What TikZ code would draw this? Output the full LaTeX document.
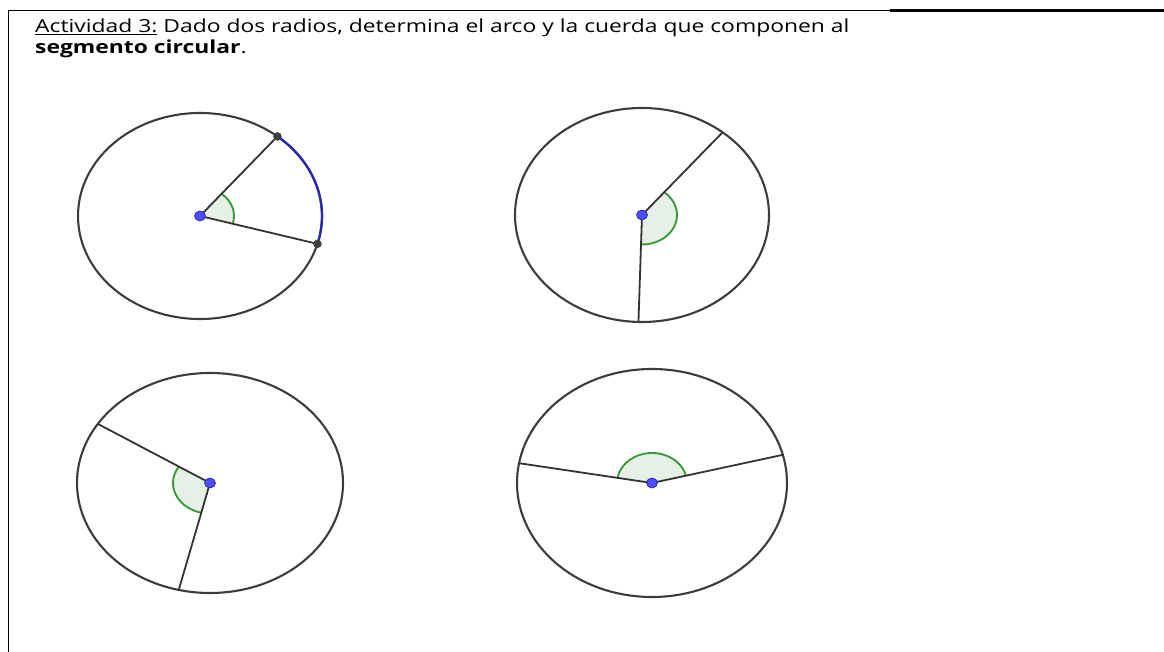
\documentclass[tikz,border=0pt]{standalone}
\usepackage{fontspec}
\setmainfont{Open Sans}
\usetikzlibrary{calc}
\definecolor{circ}{HTML}{3C3C3C}
\definecolor{rad}{HTML}{333333}
\definecolor{secfill}{HTML}{E6F0E6}
\definecolor{secline}{HTML}{3A9A3A}
\definecolor{ptblue}{HTML}{4D4DFF}
\definecolor{ptblueline}{HTML}{1A1AA0}
\definecolor{arcblue}{HTML}{2828B4}
\definecolor{ptdark}{HTML}{404040}
\newcommand\myhsc{1.27}
\tikzset{
  circline/.style={draw=circ, line width=2.1pt},
  radline/.style={draw=rad, line width=1.8pt},
  sector/.style={fill=secfill},
  sectorarc/.style={draw=secline, line width=1.9pt},
  bluept/.style={fill=ptblue, draw=ptblueline, line width=0.6pt},
  darkpt/.style={fill=ptdark, draw=ptdark},
  frame/.style={draw=black, line width=1.8pt},
  txt/.style={anchor=base west, inner sep=0pt, font=\fontsize{18}{21}\selectfont},
}
\begin{document}
\begin{tikzpicture}[x=1pt,y=1pt]
\useasboundingbox (0,0) rectangle (1164,652);
% frame
\coordinate (tl) at (8.5,641.5);
\coordinate (tr) at (1164,641.5);
\coordinate (bl) at (8.5,0);
\coordinate (tm) at (890,641.5);
\draw[frame] (bl) -- (tl) -- (tr);
\draw[draw=black, line width=2.8pt] (tm) -- (tr);
% text
\node[txt] (title1) at (35,619) {\scalebox{\myhsc}[1]{\underline{Actividad 3:} Dado dos radios, determina el arco y la cuerda que componen al}};
\node[txt] (title2) at (35,598) {\scalebox{\myhsc}[1]{\textbf{segmento circular}.}};

% ---------- circle 1 ----------
\coordinate (c1) at (200,436);
\coordinate (a1) at ($(c1)+({122*cos(50.6)},{103*sin(50.6)})$);
\coordinate (b1) at ($(c1)+({122*cos(-15.7)},{103*sin(-15.7)})$);
\fill[sector] (c1) -- ++({34*cos(-15.7)},{28.7*sin(-15.7)}) arc[start angle=-15.7, end angle=50.6, x radius=34, y radius=28.7] -- cycle;
\draw[sectorarc] ($(c1)+({34*cos(-15.7)},{28.7*sin(-15.7)})$) arc[start angle=-15.7, end angle=50.6, x radius=34, y radius=28.7];
\draw[circline] (c1) ellipse[x radius=122, y radius=103];
\draw[draw=arcblue, line width=2.3pt] (b1) arc[start angle=-15.7, end angle=50.6, x radius=122, y radius=103];
\draw[radline] (c1) -- (a1);
\draw[radline] (c1) -- (b1);
\fill[darkpt] (a1) circle[radius=4];
\fill[darkpt] (b1) circle[radius=4];
\filldraw[bluept] (c1) ellipse[x radius=5.5, y radius=5];

% ---------- circle 2 ----------
\coordinate (c2) at (642,437);
\coordinate (a2) at ($(c2)+({127*cos(50.6)},{107*sin(50.6)})$);
\coordinate (b2) at ($(c2)+({127*cos(-91.6)},{107*sin(-91.6)})$);
\fill[sector] (c2) -- ++({35*cos(-91.6)},{29.5*sin(-91.6)}) arc[start angle=-91.6, end angle=50.6, x radius=35, y radius=29.5] -- cycle;
\draw[sectorarc] ($(c2)+({35*cos(-91.6)},{29.5*sin(-91.6)})$) arc[start angle=-91.6, end angle=50.6, x radius=35, y radius=29.5];
\draw[circline] (c2) ellipse[x radius=127, y radius=107];
\draw[radline] (c2) -- (a2);
\draw[radline] (c2) -- (b2);
\filldraw[bluept] (c2) ellipse[x radius=5.5, y radius=5];

% ---------- circle 3 ----------
\coordinate (c3) at (210,169);
\coordinate (a3) at ($(c3)+({133*cos(147.5)},{110*sin(147.5)})$);
\coordinate (b3) at ($(c3)+({133*cos(256.4)},{110*sin(256.4)})$);
\fill[sector] (c3) -- ++({37*cos(147.5)},{30.6*sin(147.5)}) arc[start angle=147.5, end angle=256.4, x radius=37, y radius=30.6] -- cycle;
\draw[sectorarc] ($(c3)+({37*cos(147.5)},{30.6*sin(147.5)})$) arc[start angle=147.5, end angle=256.4, x radius=37, y radius=30.6];
\draw[circline] (c3) ellipse[x radius=133, y radius=110];
\draw[radline] (c3) -- (a3);
\draw[radline] (c3) -- (b3);
\filldraw[bluept] (c3) ellipse[x radius=5.5, y radius=5];

% ---------- circle 4 ----------
\coordinate (c4) at (652,169);
\coordinate (a4) at ($(c4)+({135*cos(170)},{114*sin(170)})$);
\coordinate (b4) at ($(c4)+({135*cos(14.3)},{114*sin(14.3)})$);
\fill[sector] (c4) -- ++({35*cos(14.3)},{30*sin(14.3)}) arc[start angle=14.3, end angle=170, x radius=35, y radius=30] -- cycle;
\draw[sectorarc] ($(c4)+({35*cos(14.3)},{30*sin(14.3)})$) arc[start angle=14.3, end angle=170, x radius=35, y radius=30];
\draw[circline] (c4) ellipse[x radius=135, y radius=114];
\draw[radline] (c4) -- (a4);
\draw[radline] (c4) -- (b4);
\filldraw[bluept] (c4) ellipse[x radius=5.5, y radius=5];
\end{tikzpicture}
\end{document}
